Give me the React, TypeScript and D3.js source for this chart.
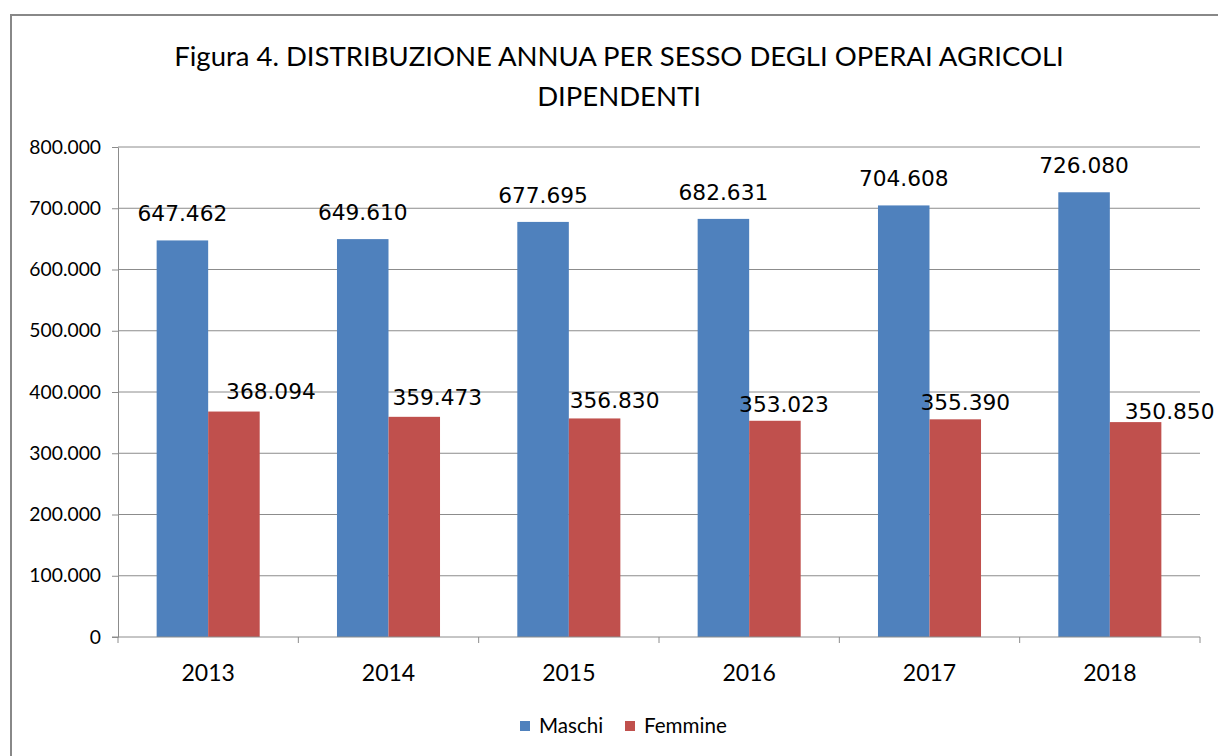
import React, { useEffect, useRef } from 'react';
import * as d3 from 'd3';

const years = ['2013', '2014', '2015', '2016', '2017', '2018'];
const maschi = [647462, 649610, 677695, 682631, 704608, 726080];
const femmine = [368094, 359473, 356830, 353023, 355390, 350850];
const yTicks = [0, 100000, 200000, 300000, 400000, 500000, 600000, 700000, 800000];
const seriesNames = ['Maschi', 'Femmine'];
const seriesColors = ['#4F81BD', '#C0504D'];
// hand-placed label nudges for the Femmine labels (as in the original)
const femLabelDx = [37, 23, 20, 9, 10, 34];
const femLabelDy = [-13, -12, -10, -9, -9, -3];

const W = 1218;
const H = 756;
const font = 'Lato, "Open Sans", sans-serif';

const fmt = (v: number) => (v === 0 ? '0' : d3.format(',')(v).replace(/,/g, '.'));

const App = () => {
  const svgRef = useRef<SVGSVGElement>(null);

  useEffect(() => {
    const svg = d3.select(svgRef.current);
    svg.selectAll('*').remove();

    const plot = { left: 118, right: 1200, top: 147, bottom: 637 };

    // outer frame
    svg.append('rect')
      .attr('x', 11).attr('y', 15)
      .attr('width', W).attr('height', H)
      .attr('fill', '#fff')
      .attr('stroke', '#888').attr('stroke-width', 2);

    // title
    const title = svg.append('text')
      .attr('text-anchor', 'middle')
      .attr('font-family', font)
      .attr('font-size', 27.5)
      .attr('fill', '#000');
    title.append('tspan').attr('x', 619).attr('y', 66)
      .text('Figura 4. DISTRIBUZIONE ANNUA PER SESSO DEGLI OPERAI AGRICOLI');
    title.append('tspan').attr('x', 619).attr('y', 106).text('DIPENDENTI');

    const y = d3.scaleLinear().domain([0, 800000]).range([plot.bottom, plot.top]);
    const x = d3.scaleBand().domain(years).range([plot.left, plot.right]);
    const inner = d3.scaleBand().domain(seriesNames)
      .range([0, x.bandwidth()]).paddingOuter(0.75).paddingInner(0);

    // gridlines
    svg.append('g').selectAll('line')
      .data(yTicks.slice(1))
      .enter().append('line')
      .attr('x1', plot.left).attr('x2', plot.right)
      .attr('y1', d => y(d)).attr('y2', d => y(d))
      .attr('stroke', '#8c8c8c').attr('stroke-width', 1);

    // y axis
    const yAxis = svg.append('g')
      .attr('transform', `translate(${plot.left},0)`)
      .call(d3.axisLeft(y).tickValues(yTicks).tickFormat(d => fmt(+d)).tickSize(6).tickSizeOuter(0));
    yAxis.select('.domain').attr('stroke', '#8c8c8c');
    yAxis.selectAll('.tick line').attr('stroke', '#8c8c8c');
    yAxis.selectAll('.tick text')
      .attr('font-family', font).attr('font-size', 19.3).attr('fill', '#000')
      .attr('x', -17);

    // bars
    const groups = svg.append('g').selectAll('g')
      .data(years)
      .enter().append('g')
      .attr('transform', d => `translate(${x(d)},0)`);

    const vals = [maschi, femmine];
    seriesNames.forEach((s, si) => {
      groups.append('rect')
        .attr('x', inner(s)!)
        .attr('width', inner.bandwidth())
        .attr('y', (_, i) => y(vals[si][i]))
        .attr('height', (_, i) => plot.bottom - y(vals[si][i]))
        .attr('fill', seriesColors[si]);
    });

    // x axis
    const xAxis = svg.append('g')
      .attr('transform', `translate(0,${plot.bottom})`);
    xAxis.append('line')
      .attr('x1', plot.left - 6).attr('x2', plot.right)
      .attr('stroke', '#8c8c8c');
    const bounds = years.map(d => x(d)!).concat([plot.right]);
    xAxis.selectAll('line.tk')
      .data(bounds)
      .enter().append('line')
      .attr('class', 'tk')
      .attr('x1', d => d).attr('x2', d => d)
      .attr('y1', 0).attr('y2', 6)
      .attr('stroke', '#8c8c8c');
    xAxis.selectAll('text')
      .data(years)
      .enter().append('text')
      .attr('x', d => x(d)! + x.bandwidth() / 2)
      .attr('y', 44)
      .attr('text-anchor', 'middle')
      .attr('font-family', font).attr('font-size', 23).attr('fill', '#000')
      .text(d => d);

    // value labels
    const lab = svg.append('g')
      .attr('font-family', '"DejaVu Sans", sans-serif')
      .attr('font-size', 21.7)
      .attr('fill', '#000')
      .attr('text-anchor', 'middle');
    years.forEach((yr, i) => {
      lab.append('text')
        .attr('x', x(yr)! + inner('Maschi')! + inner.bandwidth() / 2)
        .attr('y', y(maschi[i]) - 19)
        .text(fmt(maschi[i]));
      lab.append('text')
        .attr('x', x(yr)! + inner('Femmine')! + inner.bandwidth() / 2 + femLabelDx[i])
        .attr('y', y(femmine[i]) + femLabelDy[i])
        .text(fmt(femmine[i]));
    });

    // legend
    const legend = svg.append('g').attr('transform', 'translate(520,721)');
    const legendX = [0, 105];
    seriesNames.forEach((s, i) => {
      legend.append('rect')
        .attr('x', legendX[i]).attr('y', 0)
        .attr('width', 10).attr('height', 10)
        .attr('fill', seriesColors[i]);
      legend.append('text')
        .attr('x', legendX[i] + 19).attr('y', 12)
        .attr('font-family', font).attr('font-size', 20.6).attr('fill', '#000')
        .text(s);
    });
  }, []);

  return (
    <svg
      ref={svgRef}
      width={W}
      height={H}
      style={{ position: 'absolute', left: 0, top: 0, background: '#fff' }}
    />
  );
};

export default App;
